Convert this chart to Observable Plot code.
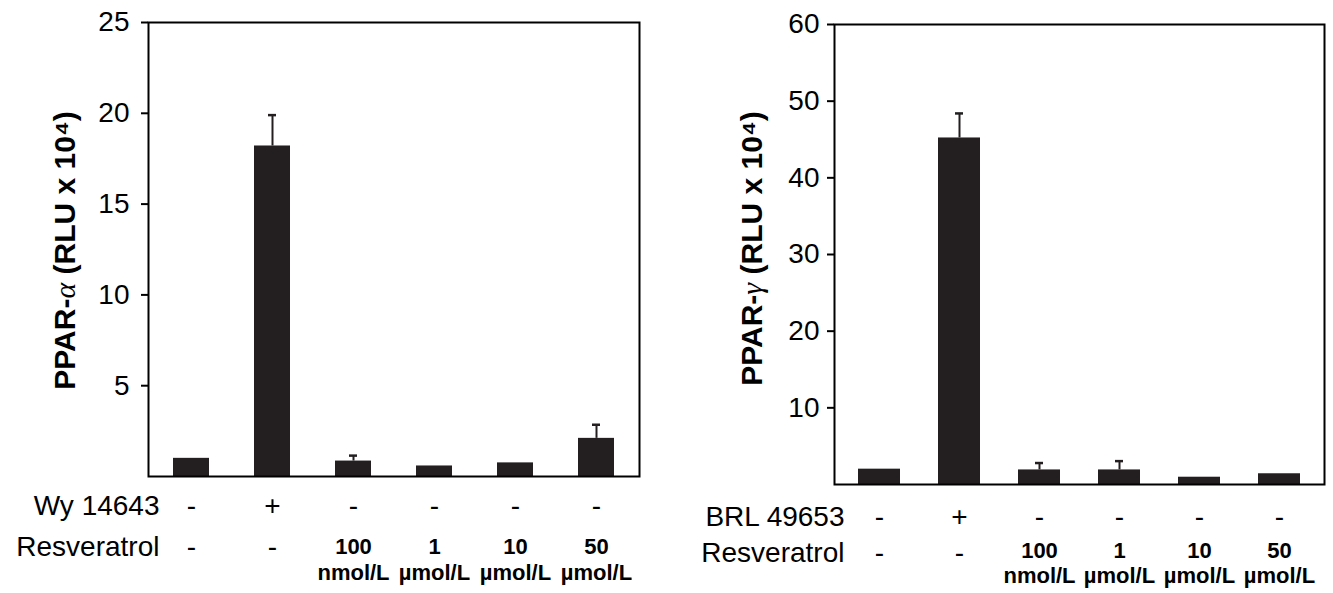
<!DOCTYPE html>
<html>
<head>
<meta charset="utf-8">
<script src="https://cdn.jsdelivr.net/npm/d3@7"></script>
<script src="https://cdn.jsdelivr.net/npm/@observablehq/plot@0.6"></script>
<style>
  html, body { margin: 0; padding: 0; background: #fff; }
  #wrap { position: relative; width: 1333px; height: 593px; overflow: hidden; background: #fff; }
  #wrap > svg { position: absolute; top: 0; overflow: visible; }
</style>
</head>
<body>
<div id="wrap"></div>
<script>
// ---- data ----
const conditions = ["c1", "c2", "c3", "c4", "c5", "c6"];
const agonistSigns = ["-", "+", "-", "-", "-", "-"];
const resveratrolSigns = ["-", "-", "", "", "", ""];
const doseValues = ["", "", "100", "1", "10", "50"];
const doseUnits = ["", "", "nmol/L", "µmol/L", "µmol/L", "µmol/L"];

const alphaValues = [1.0, 18.2, 0.85, 0.58, 0.75, 2.1];
const alphaErrTop = [null, 19.9, 1.15, null, null, 2.85];
const alphaTicks = [5, 10, 15, 20, 25];

const gammaValues = [2.0, 45.2, 1.9, 1.9, 0.95, 1.4];
const gammaErrTop = [null, 48.4, 2.8, 3.05, null, null];
const gammaTicks = [10, 20, 30, 40, 50, 60];

const FONT = "'Liberation Sans', Arial, Helvetica, sans-serif";
const BAR = "#231f20";

function panel(o) {
  const rows = conditions.map((c, i) => ({
    c, v: o.values[i], e: o.err[i],
    ag: agonistSigns[i], rs: resveratrolSigns[i], dv: doseValues[i], du: doseUnits[i]
  }));
  const errs = rows.filter(d => d.e != null);
  const svg = Plot.plot({
    width: o.width, height: o.height,
    marginLeft: o.ml, marginRight: o.mr, marginTop: o.mt, marginBottom: o.mb,
    style: {fontFamily: FONT, background: "transparent", color: "black", overflow: "visible"},
    x: {domain: conditions, paddingInner: o.pi, paddingOuter: 0.3, axis: null},
    y: {domain: o.domain, axis: null},
    marks: [
      Plot.barY(rows, {x: "c", y: "v", fill: BAR}),
      Plot.ruleX(errs, {x: "c", y1: "v", y2: "e", stroke: BAR, strokeWidth: 2}),
      Plot.tickY(errs, {x: "c", y: "e", stroke: BAR, strokeWidth: 2.5, insetLeft: o.capInset, insetRight: o.capInset}),
      Plot.frame({stroke: "black", strokeWidth: 2}),
      Plot.axisY({ticks: o.ticks, tickSize: 7, tickPadding: o.tp, fontSize: 28, strokeWidth: 2, label: null, tickFormat: d => String(d)}),
      Plot.text([o.ylabel], {frameAnchor: "left", textAnchor: "middle", rotate: -90, dx: o.ylabelDx, dy: o.ylabelDy, fontSize: 30, fontWeight: "bold", text: d => d}),
      // first row: agonist
      Plot.text([o.agonist], {frameAnchor: "bottom-left", dx: o.rowDx, dy: o.row1, textAnchor: "end", fontSize: 28, text: d => d}),
      Plot.text(rows, {x: "c", text: "ag", frameAnchor: "bottom", dy: o.row1, fontSize: 28}),
      // second row: resveratrol
      Plot.text(["Resveratrol"], {frameAnchor: "bottom-left", dx: o.rowDx, dy: o.row2, textAnchor: "end", fontSize: 28, text: d => d}),
      Plot.text(rows, {x: "c", text: "rs", frameAnchor: "bottom", dy: o.row2, fontSize: 28}),
      Plot.text(rows, {x: "c", text: "dv", frameAnchor: "bottom", dy: o.rowDose, fontSize: 22, fontWeight: "bold"}),
      Plot.text(rows, {x: "c", text: "du", frameAnchor: "bottom", dy: o.row3, fontSize: 22, fontWeight: "bold"})
    ]
  });
  // render the Greek letter in a serif face, as in the original
  d3.select(svg).selectAll("text").each(function() {
    const t = this.textContent;
    if (t.startsWith("PPAR-")) {
      const greek = t.charAt(5);
      const rest = t.slice(6);
      const sel = d3.select(this);
      sel.text(null);
      sel.append("tspan").text("PPAR-");
      sel.append("tspan").attr("font-family", "'Liberation Serif', 'DejaVu Serif', serif")
        .attr("font-weight", "normal").attr("font-style", "italic").text(greek);
      sel.append("tspan").text(rest);
    }
  });
  svg.style.left = o.left + "px";
  return svg;
}

const wrap = document.getElementById("wrap");
wrap.appendChild(panel({
  left: 0, width: 680, height: 593, ml: 148, mr: 41, mt: 22, mb: 117,
  domain: [0, 25], ticks: alphaTicks, tp: 12, pi: 0.56, capInset: 14,
  values: alphaValues, err: alphaErrTop,
  ylabel: "PPAR-α (RLU x 10⁴)", ylabelDx: -83, ylabelDy: 1,
  agonist: "Wy 14643", rowDx: 11, row1: 38, row2: 79, rowDose: 77, row3: 103
}));
wrap.appendChild(panel({
  left: 680, width: 653, height: 593, ml: 154, mr: 9, mt: 24, mb: 109,
  domain: [0, 60], ticks: gammaTicks, tp: 8, pi: 0.475, capInset: 17,
  values: gammaValues, err: gammaErrTop,
  ylabel: "PPAR-γ (RLU x 10⁴)", ylabelDx: -82, ylabelDy: -6,
  agonist: "BRL 49653", rowDx: 10, row1: 41, row2: 77, rowDose: 73, row3: 98
}));
</script>
</body>
</html>
